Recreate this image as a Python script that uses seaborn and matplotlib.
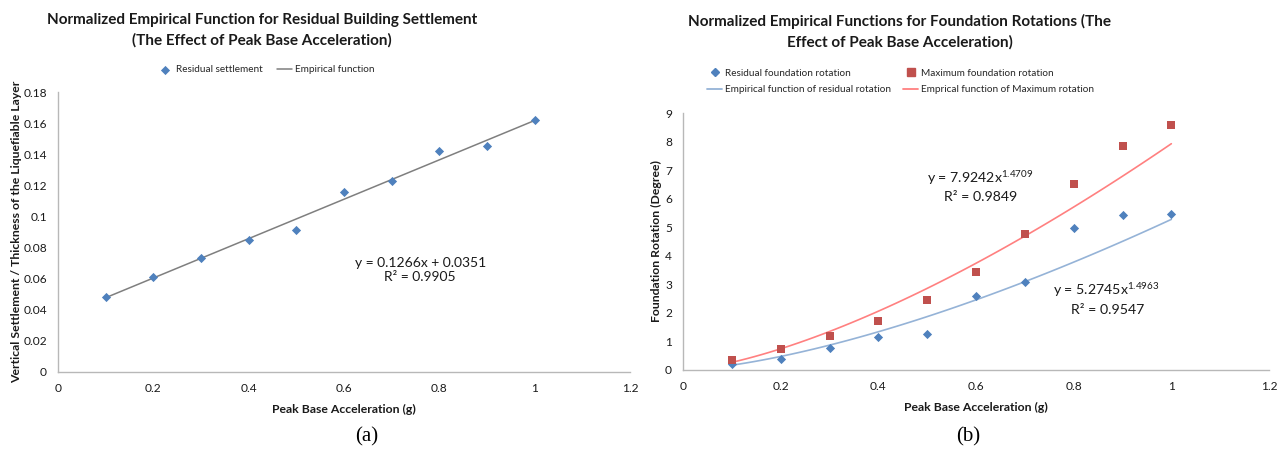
import numpy as np
import pandas as pd
import matplotlib
matplotlib.use("Agg")
import matplotlib.pyplot as plt
from matplotlib.lines import Line2D
import seaborn as sns

# Peak base acceleration (g)
pba = [0.1, 0.2, 0.3, 0.4, 0.5, 0.6, 0.7, 0.8, 0.9, 1.0]

# (a) normalised residual settlement
settlement = [0.048, 0.061, 0.073, 0.085, 0.091, 0.116, 0.123, 0.142, 0.145, 0.162]
lin_slope, lin_icpt, lin_r2 = 0.1266, 0.0351, 0.9905

# (b) foundation rotations (degree)
rot_residual = [0.21, 0.37, 0.76, 1.14, 1.25, 2.59, 3.07, 4.96, 5.42, 5.47]
rot_maximum = [0.35, 0.73, 1.20, 1.73, 2.44, 3.43, 4.76, 6.50, 7.84, 8.57]
pow_res = (5.2745, 1.4963, 0.9547)
pow_max = (7.9242, 1.4709, 0.9849)

x_ticks = [0, 0.2, 0.4, 0.6, 0.8, 1.0, 1.2]
y_ticks_a = [0, 0.02, 0.04, 0.06, 0.08, 0.10, 0.12, 0.14, 0.16, 0.18]
y_ticks_b = [0, 1, 2, 3, 4, 5, 6, 7, 8, 9]

sns.set_style("white")
plt.rcParams["font.family"] = ["Lato", "DejaVu Sans"]
plt.rcParams["mathtext.fontset"] = "custom"
plt.rcParams["mathtext.rm"] = "Lato"
plt.rcParams["mathtext.it"] = "Lato:italic"
plt.rcParams["mathtext.bf"] = "Lato:bold"

BLUE = "#4F81BD"
RED = "#C0504D"
AXIS = "#B8B8B8"
TXT = "#1A1A1A"
LBLUE = "#95B3D7"
LRED = "#FF8080"

fig = plt.figure(figsize=(12.85, 4.51), dpi=100)
ax1 = fig.add_axes([58 / 1285, 79 / 451, 572 / 1285, 280 / 451])
ax2 = fig.add_axes([683 / 1285, 81 / 451, 586 / 1285, 257 / 451])


def style_axis(ax, yticks):
    for s in ("top", "right"):
        ax.spines[s].set_visible(False)
    for s in ("left", "bottom"):
        ax.spines[s].set_color(AXIS)
        ax.spines[s].set_linewidth(1.0)
    ax.set_xlim(0, 1.2)
    ax.set_ylim(yticks[0], yticks[-1])
    ax.set_xticks(x_ticks)
    ax.set_xticklabels([f"{v:g}" for v in x_ticks])
    ax.set_yticks(yticks)
    ax.set_yticklabels([f"{v:g}" for v in yticks])
    ax.tick_params(axis="both", direction="out", length=4, width=0.9,
                   color=AXIS, labelsize=8.6, labelcolor=TXT, pad=4)
    ax.grid(False)


# ---- (a) settlement ----
df_a = pd.DataFrame({"x": pba, "y": settlement})
xs = np.array([pba[0], pba[-1]])
df_a_fit = pd.DataFrame({"x": xs, "y": lin_slope * xs + lin_icpt})
sns.lineplot(data=df_a_fit, x="x", y="y", ax=ax1, color="#7F7F7F", lw=1.1,
             label="Empirical function")
sns.scatterplot(data=df_a, x="x", y="y", ax=ax1, marker="D", s=22, color=BLUE,
                edgecolor=BLUE, linewidth=0, label="Residual settlement", zorder=3)
style_axis(ax1, y_ticks_a)
ax1.set_xlabel("Peak Base Acceleration (g)", fontsize=8.8, fontweight="bold",
               color=TXT, labelpad=7)
ax1.set_ylabel("Vertical Settlement / Thickness of the Liquefiable Layer",
               fontsize=8.8, fontweight="bold", color=TXT, labelpad=1)
h, l = ax1.get_legend_handles_labels()
ax1.legend([h[1], h[0]], [l[1], l[0]], loc="center", bbox_to_anchor=(0.364, 1.079),
           ncol=2, frameon=False, fontsize=7.2, handlelength=1.5,
           columnspacing=1.5, handletextpad=0.3, borderpad=0)
ax1.text(0.76, 0.0655, f"y = {lin_slope}x + {lin_icpt}\nR² = {lin_r2}",
         ha="center", va="center", fontsize=10, color=TXT, linespacing=1.25)
fig.text(262 / 1285, 1 - 30 / 451,
         "Normalized Empirical Function for Residual Building Settlement\n"
         "(The Effect of Peak Base Acceleration)",
         ha="center", va="center", fontsize=11, fontweight="bold", color=TXT,
         linespacing=1.55)

# ---- (b) rotations ----
xc = np.linspace(pba[0], pba[-1], 60)
df_b_fit = pd.DataFrame({
    "x": np.concatenate([xc, xc]),
    "y": np.concatenate([pow_res[0] * xc ** pow_res[1], pow_max[0] * xc ** pow_max[1]]),
    "s": ["Empirical function of residual rotation"] * len(xc)
         + ["Emprical function of Maximum rotation"] * len(xc),
})
sns.lineplot(data=df_b_fit, x="x", y="y", hue="s", ax=ax2,
             palette=[LBLUE, LRED], lw=1.2, legend=False)
sns.scatterplot(x=pba, y=rot_residual, ax=ax2, marker="D", s=22, color=BLUE,
                linewidth=0, zorder=3)
sns.scatterplot(x=pba, y=rot_maximum, ax=ax2, marker="s", s=40, color=RED,
                linewidth=0, zorder=3)
style_axis(ax2, y_ticks_b)
ax2.set_xlabel("Peak Base Acceleration (g)", fontsize=8.8, fontweight="bold",
               color=TXT, labelpad=7)
ax2.set_ylabel("Foundation Rotation (Degree)", fontsize=8.8, fontweight="bold",
               color=TXT, labelpad=2)

handles = [
    Line2D([], [], ls="none", marker="D", ms=4.2, color=BLUE),
    Line2D([], [], color=LBLUE, lw=1.3),
    Line2D([], [], ls="none", marker="s", ms=5.5, color=RED),
    Line2D([], [], color=LRED, lw=1.3),
]
labels = ["Residual foundation rotation", "Empirical function of residual rotation",
          "Maximum foundation rotation", "Emprical function of Maximum rotation"]
ax2.legend(handles, labels, loc="center", bbox_to_anchor=(0.372, 1.1226), ncol=2,
           frameon=False, fontsize=7.2, handlelength=1.5, columnspacing=1.2,
           handletextpad=0.3, labelspacing=0.75, borderpad=0)

ax2.text(0.608, 6.72, f"y = {pow_max[0]}x$^{{{pow_max[1]}}}$", ha="center",
         va="center", fontsize=10.2, color=TXT)
ax2.text(0.61, 6.06, f"R² = {pow_max[2]}", ha="center", va="center",
         fontsize=10.2, color=TXT)
ax2.text(0.867, 2.8, f"y = {pow_res[0]}x$^{{{pow_res[1]}}}$", ha="center",
         va="center", fontsize=10.2, color=TXT)
ax2.text(0.87, 2.1, f"R² = {pow_res[2]}", ha="center", va="center",
         fontsize=10.2, color=TXT)
fig.text(900 / 1285, 1 - 32 / 451,
         "Normalized Empirical Functions for Foundation Rotations (The\n"
         "Effect of Peak Base Acceleration)",
         ha="center", va="center", fontsize=11, fontweight="bold", color=TXT,
         linespacing=1.5)

# panel captions
for xpos, tag in ((367, "(a)"), (968, "(b)")):
    fig.text(xpos / 1285, 1 - 437 / 451, tag, ha="center", va="center",
             fontsize=15, family="Liberation Serif", color="black")

fig.savefig("out.png", dpi=100, facecolor="white")
